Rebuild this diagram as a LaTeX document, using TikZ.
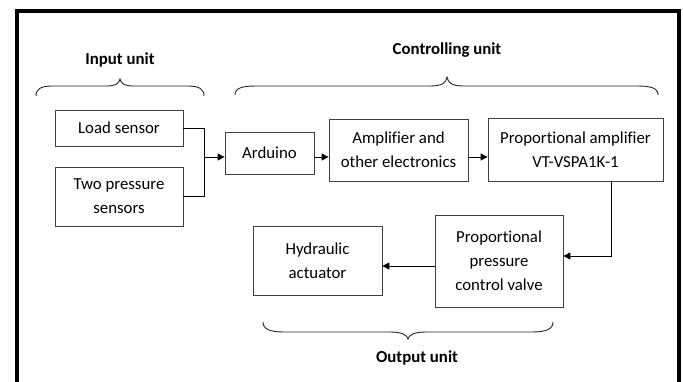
\documentclass[tikz,border=0pt]{standalone}
\usepackage{fontspec}
\setmainfont{Carlito}[Ligatures=NoCommon]
\usetikzlibrary{arrows.meta}
\begin{document}
\begin{tikzpicture}[x=1pt,y=-1pt,
  blk/.style={draw=black!75, line width=0.8pt, rectangle, align=center, inner sep=0pt,
    font=\fontsize{16.8}{24}\selectfont},
  wire/.style={line width=1pt},
  conn/.style={wire, -{Triangle[length=7pt,width=7pt]}},
  brc/.style={line width=0.9pt, black!85},
  head/.style={font=\fontsize{16.8}{20}\selectfont\bfseries}]
\useasboundingbox (0,0) rectangle (683,381);
% outer frame, open at the bottom
\draw[line width=4pt] (17,385) -- (17,11) -- (679,11) -- (679,385);

% blocks
\node[blk, minimum width=128pt, minimum height=36pt] (load) at (119,128) {Load sensor};
\node[blk, minimum width=128pt, minimum height=59pt] (tps) at (119,196.5) {Two pressure\\sensors};
\node[blk, minimum width=89pt, minimum height=42pt] (ard) at (269.5,153) {Arduino};
\node[blk, minimum width=139pt, minimum height=62pt] (amp) at (398.5,150) {Amplifier and\\other electronics};
\node[blk, minimum width=175pt, minimum height=63pt] (pamp) at (575.5,149.5) {Proportional amplifier\\VT-VSPA1K-1};
\node[blk, minimum width=128pt, minimum height=92pt] (valve) at (499,261) {Proportional\\pressure\\control valve};
\node[blk, minimum width=129pt, minimum height=69pt] (act) at (317.5,260.5) {Hydraulic\\actuator};

% connectors
\coordinate (j) at (204,157);
\draw[wire] (load.east) -| (j);
\draw[wire] (tps.east) -| (j);
\draw[conn] (j) -- (ard.west |- j);
\draw[conn] (ard.east |- j) -- (amp.west |- j);
\draw[conn] (amp.east |- j) -- (pamp.west |- j);
\coordinate (k) at (611,256);
\draw[conn] (pamp.south -| k) -- (k) -- (valve.east |- k);
\coordinate (m) at (0,266);
\draw[conn] (valve.west |- m) -- (act.east |- m);

% group labels
\node[head] (lin) at (120,60) {Input unit};
\node[head] (lctl) at (447,50) {Controlling unit};
\node[head] (lout) at (417,358) {Output unit};

% braces
\draw[brc] (36,96) .. controls (36,89) and (41,86) .. (52,86) -- (106,86)
  .. controls (115,86) and (119,84) .. (120,79)
  .. controls (121,84) and (125,86) .. (134,86) -- (188,86)
  .. controls (199,86) and (204,89) .. (204,96);
\draw[brc] (235,95) .. controls (235,88) and (242,86) .. (256,86) -- (430,86)
  .. controls (442,86) and (446,83) .. (447,77)
  .. controls (448,83) and (452,86) .. (464,86) -- (637,86)
  .. controls (651,86) and (658,88) .. (658,95);
\draw[brc] (263,322) .. controls (263,329) and (270,332) .. (284,332) -- (390,332)
  .. controls (402,332) and (407,335) .. (408,339)
  .. controls (409,335) and (414,332) .. (426,332) -- (532,332)
  .. controls (546,332) and (553,329) .. (553,322);
\end{tikzpicture}
\end{document}
